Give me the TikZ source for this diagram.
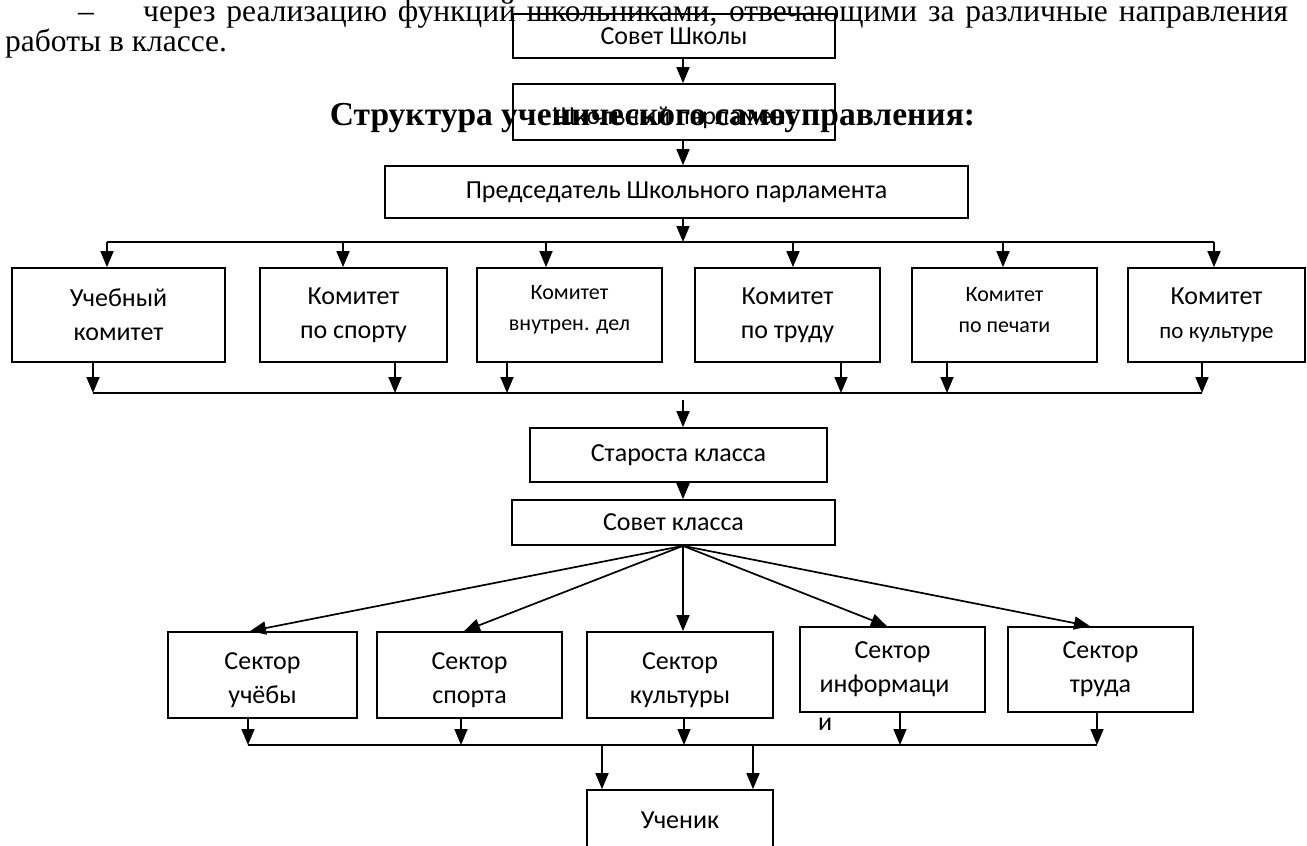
\documentclass[tikz,border=0pt]{standalone}
\usepackage{fontspec}
\setmainfont{Liberation Serif}
\newfontfamily\boxfont{Carlito}
\usetikzlibrary{arrows.meta}
\begin{document}
\begin{tikzpicture}[x=1pt,y=-1pt,
  bx/.style={draw, line width=1.7pt, inner sep=0pt, align=center, font=\boxfont\fontsize{26}{34}\selectfont},
  lab/.style={inner sep=0pt, align=center, font=\boxfont\fontsize{26}{34}\selectfont},
  small/.style={font=\boxfont\fontsize{22}{31}\selectfont},
  ar/.style={line width=1.7pt, -{Triangle[width=13pt,length=16pt]}},
  ln/.style={line width=1.7pt},
  doc/.style={inner sep=0pt, anchor=base west, font=\fontsize{31.5}{36}\selectfont}]
\useasboundingbox (0,0) rectangle (1307,846);
\clip (0,0) rectangle (1307,846);
\fill[white] (0,0) rectangle (1307,846);

% document text
\node[doc] (dash) at (78,21) {–};
\node[doc] (line1) at (143,21) {\makebox[1145pt][s]{через реализацию функций школьниками, отвечающими за различные направления}};
\node[doc] (line2) at (5,51) {работы в классе.};
\node[inner sep=0pt, anchor=base, font=\bfseries\fontsize{33.5}{38}\selectfont] (title) at (652.5,125) {Структура ученического самоуправления:};

% column coordinate
\coordinate (cx) at (683,0);

% top boxes
\node[bx, minimum width=322pt, minimum height=44pt] (sovet) at (674,36) {Совет Школы};
\node[bx, minimum width=322pt, minimum height=56pt,
      label={[lab, yshift=-6pt]center:Школьный парламент}] (parl) at (674,112) {};
\node[bx, minimum width=583pt, minimum height=52pt] (pred) at (676.5,192) {Председатель Школьного парламента};

\draw[ar] (sovet.south -| cx) -- (parl.north -| cx);
\draw[ar] (parl.south -| cx) -- (pred.north -| cx);

% committees
\node[bx, minimum width=213pt, minimum height=94pt] (k1) at (118.5,315) {Учебный\\комитет};
\node[bx, minimum width=187pt, minimum height=94pt] (k2) at (353.5,315) {Комитет\\по спорту};
\node[bx, minimum width=185pt, minimum height=94pt,
      label={[lab, small, yshift=5pt]center:Комитет\\внутрен. дел}] (k3) at (569.5,315) {};
\node[bx, minimum width=185pt, minimum height=94pt] (k4) at (787.5,315) {Комитет\\по труду};
\node[bx, minimum width=185pt, minimum height=94pt,
      label={[lab, small, yshift=5pt]center:Комитет\\по печати}] (k5) at (1004.5,315) {};
\node[bx, minimum width=177pt, minimum height=94pt] (k6) at (1216.5,315) {Комитет\\{\fontsize{23}{31}\selectfont по культуре}};

% bus 1
\coordinate (t0) at (683,242);
\coordinate (t1) at (107,242);
\coordinate (t2) at (343,242);
\coordinate (t3) at (546,242);
\coordinate (t4) at (793,242);
\coordinate (t5) at (1003,242);
\coordinate (t6) at (1214,242);
\draw[ln] (t1) -- (t6);
\draw[ar] (pred.south -| t0) -- (t0);
\foreach \i in {1,...,6}{\draw[ar] (t\i) -- (k\i.north -| t\i);}

% bus 2
\coordinate (u1) at (93,393);
\coordinate (u2) at (395,393);
\coordinate (u3) at (507,393);
\coordinate (u4) at (841,393);
\coordinate (u5) at (947,393);
\coordinate (u6) at (1202,393);
\draw[ln] (u1) -- (u6);
\foreach \i in {1,...,6}{\draw[ar] (k\i.south -| u\i) -- (u\i);}
\coordinate (u0) at (683,400);

% class level
\node[bx, minimum width=297pt, minimum height=54pt] (star) at (678.5,455) {Староста класса};
\node[bx, minimum width=323pt, minimum height=45pt] (sk) at (673.5,522.5) {Совет класса};
\draw[ar] (u0) -- (star.north -| u0);
\draw[ar] (star.south -| cx) -- (sk.north -| cx);

% sectors
\node[bx, minimum width=189pt, minimum height=86pt,
      label={[lab, yshift=-5pt]center:Сектор\\учёбы}] (s1) at (262.5,675) {};
\node[bx, minimum width=185pt, minimum height=86pt,
      label={[lab, yshift=-5pt]center:Сектор\\спорта}] (s2) at (469.5,675) {};
\node[bx, minimum width=186pt, minimum height=86pt,
      label={[lab, yshift=-5pt]center:Сектор\\культуры}] (s3) at (680,675) {};
\node[bx, minimum width=185pt, minimum height=85pt] (s4) at (892.5,669.5) {Сектор\\информаци\hspace*{16pt}};
\node[inner sep=0pt, anchor=west, font=\boxfont\fontsize{26}{34}\selectfont] (s4b) at (818,724) {и};
\node[bx, minimum width=185pt, minimum height=85pt] (s5) at (1100.5,669.5) {Сектор\\труда};

\coordinate (skb) at (sk.south -| cx);
\coordinate (x1) at (250,0);
\coordinate (x2) at (464,0);
\coordinate (x3) at (683,0);
\coordinate (x4) at (887,0);
\coordinate (x5) at (1090,0);
\foreach \i in {1,...,5}{\draw[ar] (skb) -- (s\i.north -| x\i);}

% bus 3
\coordinate (v1) at (248,745);
\coordinate (v2) at (461,745);
\coordinate (v3) at (684,745);
\coordinate (v4) at (900,745);
\coordinate (v5) at (1097,745);
\draw[ln] (v1) -- (v5);
\foreach \i in {1,...,5}{\draw[ar] (s\i.south -| v\i) -- (v\i);}

\node[bx, minimum width=186pt, minimum height=60pt] (uch) at (680,820) {Ученик};
\coordinate (w1) at (602,745);
\coordinate (w2) at (753,745);
\draw[ar] (w1) -- (uch.north -| w1);
\draw[ar] (w2) -- (uch.north -| w2);
\end{tikzpicture}
\end{document}
